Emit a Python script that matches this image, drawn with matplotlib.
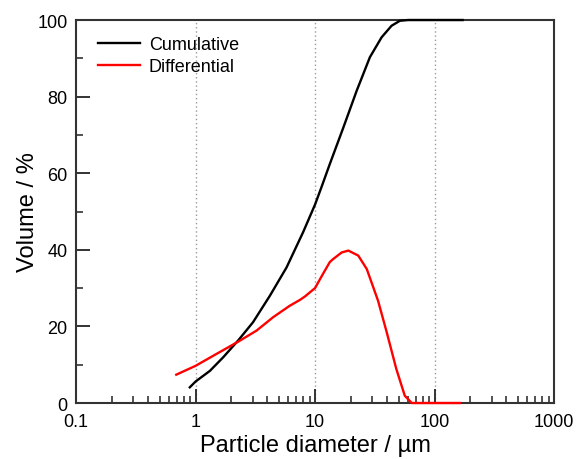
import matplotlib
matplotlib.use("Agg")
import matplotlib.pyplot as plt
from matplotlib.ticker import LogLocator, NullFormatter, FixedLocator

plt.rcParams['font.family'] = ['Liberation Sans', 'DejaVu Sans']

# Cumulative curve (diameter in um, volume %)
cum_d = [0.896, 1.0, 1.32, 1.70, 2.27, 3.03, 4.19, 5.78, 7.95, 10.0, 11.4, 13.3, 17.3,
         22.3, 28.8, 36.1, 43.7, 51.3, 60.0, 100.0, 172.0]
cum_v = [4.1, 5.6, 8.4, 11.9, 16.3, 21.1, 28.0, 35.4, 44.6, 51.8, 56.6, 62.4, 72.0,
         81.5, 90.3, 95.5, 98.5, 99.8, 100.0, 100.0, 100.0]

# Differential curve
dif_d = [0.69, 1.0, 1.40, 2.27, 3.24, 4.46, 6.15, 7.46, 8.22, 10.0, 11.7, 13.3, 14.2,
         16.7, 19.0, 23.0, 27.1, 33.7, 39.8, 47.9, 56.4, 64.5, 100.0, 163.0]
dif_v = [7.4, 9.7, 12.3, 16.0, 18.9, 22.4, 25.4, 26.9, 27.8, 30.0, 33.8, 36.8, 37.6,
         39.3, 39.8, 38.5, 35.0, 26.7, 18.5, 8.9, 1.9, 0.0, 0.0, 0.0]

x_ticks = [0.1, 1, 10, 100, 1000]
x_tick_labels = ['0.1', '1', '10', '100', '1000']
y_ticks = [0, 20, 40, 60, 80, 100]
grid_x = [1, 10, 100]

fig = plt.figure(figsize=(5.82, 4.60), dpi=100)
ax = fig.add_axes([0.1306, 0.1217, 0.8213, 0.8326])

for gx in grid_x:
    ax.axvline(gx, color='#999999', linestyle=(0, (1, 2)), linewidth=1.0, zorder=0)

ax.plot(cum_d, cum_v, color='black', linewidth=1.7, label='Cumulative',
        clip_on=False, zorder=5)
ax.plot(dif_d, dif_v, color='#ff0000', linewidth=1.7, label='Differential',
        clip_on=False, zorder=5)

ax.set_xscale('log')
ax.set_xlim(0.1, 1000)
ax.set_ylim(0, 100)

ax.xaxis.set_major_locator(FixedLocator(x_ticks))
ax.set_xticklabels(x_tick_labels)
ax.xaxis.set_minor_locator(LogLocator(base=10, subs=[2, 3, 4, 5, 6, 7, 8, 9], numticks=20))
ax.xaxis.set_minor_formatter(NullFormatter())
ax.set_yticks(y_ticks)
ax.set_yticks([10, 30, 50, 70, 90], minor=True)

spine_color = '#333333'
for s in ax.spines.values():
    s.set_color(spine_color)
    s.set_linewidth(1.5)

ax.tick_params(axis='both', which='major', direction='in', length=10, width=1.4,
               color=spine_color, labelsize=13, top=False, right=False)
ax.tick_params(axis='both', which='minor', direction='in', length=5, width=1.2,
               color=spine_color, top=False, right=False)
ax.tick_params(axis='x', which='major', pad=7)
ax.tick_params(axis='y', which='major', pad=6)

ax.set_xlabel('Particle diameter / µm', fontsize=17, labelpad=3)
ax.set_ylabel('Volume / %', fontsize=17, labelpad=-1)

leg = ax.legend(loc='upper left', frameon=False, fontsize=13, handlelength=2.3,
                handletextpad=0.5, borderaxespad=0.3, labelspacing=0.25,
                bbox_to_anchor=(0.02, 0.99))

fig.savefig('out.png', dpi=100)
